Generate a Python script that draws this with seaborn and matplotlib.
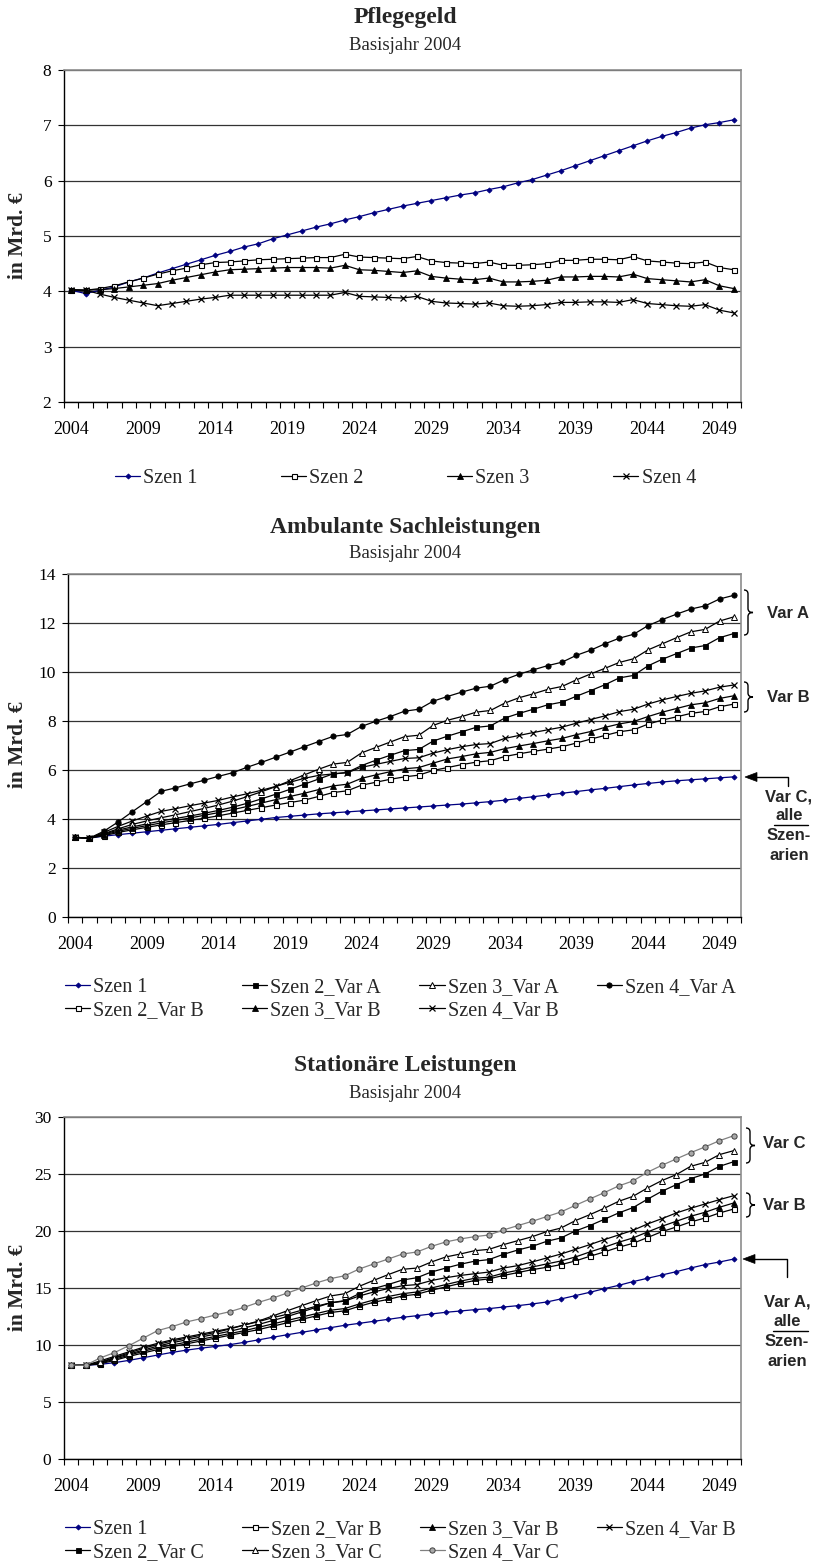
import numpy as np
import pandas as pd
import matplotlib
matplotlib.use("Agg")
import matplotlib.pyplot as plt
import seaborn as sns
from matplotlib.path import Path
from matplotlib.patches import PathPatch, Polygon
from matplotlib.lines import Line2D

# ---------------- data ----------------
years = list(range(2004, 2051))
tick_years = list(range(2004, 2050, 5))

# Pflegegeld
pg_s1 = [4.02, 3.96, 4.02, 4.08, 4.17, 4.24, 4.33, 4.41, 4.49, 4.57,
         4.65, 4.72, 4.80, 4.86, 4.95, 5.02, 5.09, 5.16, 5.22, 5.29,
         5.35, 5.42, 5.48, 5.54, 5.59, 5.64, 5.69, 5.74, 5.78, 5.84,
         5.89, 5.96, 6.02, 6.10, 6.18, 6.27, 6.36, 6.45, 6.54, 6.63,
         6.72, 6.80, 6.87, 6.95, 7.01, 7.05, 7.10]
pg_s2 = [4.03, 4.02, 4.05, 4.10, 4.17, 4.24, 4.31, 4.37, 4.42, 4.48,
         4.52, 4.53, 4.55, 4.57, 4.58, 4.59, 4.60, 4.61, 4.61, 4.67,
         4.62, 4.61, 4.60, 4.59, 4.63, 4.55, 4.52, 4.51, 4.50, 4.53,
         4.47, 4.47, 4.48, 4.50, 4.56, 4.56, 4.58, 4.58, 4.57, 4.63,
         4.55, 4.53, 4.51, 4.50, 4.53, 4.43, 4.39]
pg_s3 = [4.03, 4.02, 4.03, 4.05, 4.08, 4.11, 4.14, 4.20, 4.25, 4.30,
         4.35, 4.39, 4.40, 4.41, 4.42, 4.43, 4.43, 4.43, 4.42, 4.47,
         4.39, 4.38, 4.36, 4.34, 4.37, 4.27, 4.24, 4.22, 4.21, 4.24,
         4.17, 4.17, 4.18, 4.20, 4.26, 4.26, 4.27, 4.27, 4.26, 4.31,
         4.23, 4.21, 4.19, 4.17, 4.21, 4.10, 4.05]
pg_s4 = [4.02, 4.02, 3.95, 3.89, 3.84, 3.79, 3.74, 3.78, 3.82, 3.86,
         3.89, 3.93, 3.93, 3.93, 3.93, 3.93, 3.93, 3.93, 3.93, 3.98,
         3.91, 3.90, 3.89, 3.88, 3.91, 3.82, 3.79, 3.78, 3.77, 3.79,
         3.74, 3.73, 3.74, 3.76, 3.80, 3.80, 3.81, 3.81, 3.80, 3.85,
         3.78, 3.76, 3.74, 3.73, 3.76, 3.66, 3.61]

# Ambulante Sachleistungen
amb_s1 = [3.25, 3.22, 3.30, 3.36, 3.42, 3.48, 3.54, 3.60, 3.66, 3.72,
          3.78, 3.85, 3.92, 3.99, 4.06, 4.11, 4.16, 4.21, 4.25, 4.29,
          4.33, 4.37, 4.41, 4.45, 4.49, 4.53, 4.57, 4.61, 4.66, 4.71,
          4.77, 4.84, 4.91, 4.98, 5.05, 5.12, 5.19, 5.25, 5.32, 5.39,
          5.45, 5.51, 5.56, 5.60, 5.64, 5.68, 5.72]
amb_s2a = [3.25, 3.22, 3.38, 3.55, 3.68, 3.80, 3.92, 4.02, 4.12, 4.23,
           4.35, 4.48, 4.64, 4.82, 5.01, 5.21, 5.42, 5.63, 5.84, 5.90,
           6.18, 6.40, 6.60, 6.79, 6.84, 7.18, 7.38, 7.56, 7.74, 7.80,
           8.12, 8.31, 8.48, 8.66, 8.77, 9.01, 9.24, 9.48, 9.76, 9.86,
           10.25, 10.52, 10.75, 10.98, 11.08, 11.40, 11.57]
amb_s3a = [3.25, 3.22, 3.40, 3.60, 3.78, 3.92, 4.05, 4.17, 4.30, 4.43,
           4.57, 4.73, 4.91, 5.11, 5.32, 5.56, 5.80, 6.03, 6.24, 6.31,
           6.70, 6.92, 7.14, 7.36, 7.42, 7.82, 8.03, 8.18, 8.36, 8.43,
           8.73, 8.95, 9.11, 9.29, 9.41, 9.68, 9.92, 10.15, 10.39, 10.54,
           10.90, 11.15, 11.40, 11.64, 11.74, 12.08, 12.25]
amb_s4a = [3.25, 3.22, 3.50, 3.88, 4.30, 4.71, 5.13, 5.27, 5.43, 5.58,
           5.74, 5.89, 6.11, 6.31, 6.52, 6.73, 6.95, 7.16, 7.37, 7.45,
           7.78, 7.99, 8.18, 8.40, 8.48, 8.81, 9.00, 9.18, 9.34, 9.42,
           9.69, 9.91, 10.09, 10.26, 10.40, 10.68, 10.89, 11.15, 11.38, 11.54,
           11.89, 12.14, 12.36, 12.57, 12.70, 12.98, 13.13]
amb_s2b = [3.25, 3.22, 3.32, 3.45, 3.56, 3.66, 3.76, 3.85, 3.94, 4.03,
           4.13, 4.24, 4.35, 4.46, 4.57, 4.67, 4.77, 4.92, 5.08, 5.15,
           5.38, 5.50, 5.62, 5.72, 5.79, 5.98, 6.10, 6.22, 6.32, 6.38,
           6.55, 6.66, 6.76, 6.85, 6.95, 7.10, 7.26, 7.41, 7.56, 7.64,
           7.87, 8.04, 8.17, 8.31, 8.39, 8.58, 8.69]
amb_s3b = [3.25, 3.22, 3.35, 3.50, 3.62, 3.73, 3.84, 3.94, 4.04, 4.15,
           4.26, 4.38, 4.51, 4.65, 4.79, 4.92, 5.05, 5.20, 5.35, 5.42,
           5.66, 5.80, 5.93, 6.05, 6.10, 6.28, 6.45, 6.55, 6.66, 6.72,
           6.87, 6.98, 7.08, 7.19, 7.29, 7.44, 7.57, 7.74, 7.88, 7.98,
           8.18, 8.36, 8.51, 8.66, 8.74, 8.92, 9.03]
amb_s4b = [3.25, 3.22, 3.45, 3.70, 3.92, 4.12, 4.31, 4.42, 4.54, 4.65,
           4.76, 4.90, 5.03, 5.17, 5.33, 5.50, 5.66, 5.78, 5.84, 5.89,
           6.11, 6.23, 6.35, 6.47, 6.50, 6.69, 6.83, 6.95, 7.04, 7.08,
           7.29, 7.41, 7.53, 7.64, 7.75, 7.91, 8.06, 8.21, 8.38, 8.48,
           8.69, 8.86, 9.00, 9.13, 9.23, 9.38, 9.47]

# Stationaere Leistungen
st_s1 = [8.25, 8.22, 8.30, 8.45, 8.65, 8.88, 9.12, 9.35, 9.55, 9.72,
         9.87, 10.03, 10.23, 10.45, 10.68, 10.90, 11.11, 11.32, 11.52, 11.73,
         11.90, 12.08, 12.25, 12.43, 12.57, 12.72, 12.87, 12.98, 13.10, 13.19,
         13.33, 13.45, 13.60, 13.77, 14.04, 14.33, 14.62, 14.94, 15.23, 15.56,
         15.85, 16.14, 16.43, 16.75, 17.05, 17.28, 17.54]
st_s2b = [8.25, 8.22, 8.35, 8.65, 9.00, 9.30, 9.60, 9.85, 10.10, 10.35,
          10.60, 10.85, 11.10, 11.35, 11.65, 11.95, 12.25, 12.55, 12.85, 13.00,
          13.40, 13.75, 14.00, 14.30, 14.45, 14.80, 15.10, 15.40, 15.65, 15.80,
          16.10, 16.35, 16.61, 16.81, 17.05, 17.37, 17.78, 18.16, 18.57, 18.92,
          19.42, 19.94, 20.35, 20.79, 21.14, 21.58, 21.93]
st_s3b = [8.25, 8.22, 8.40, 8.75, 9.10, 9.45, 9.75, 10.00, 10.25, 10.50,
          10.75, 11.00, 11.25, 11.55, 11.85, 12.15, 12.45, 12.75, 13.05, 13.20,
          13.60, 13.95, 14.25, 14.50, 14.65, 15.00, 15.30, 15.60, 15.85, 15.95,
          16.30, 16.55, 16.84, 17.11, 17.37, 17.72, 18.16, 18.57, 19.01, 19.39,
          19.91, 20.41, 20.85, 21.29, 21.64, 22.08, 22.46]
st_s4b = [8.25, 8.22, 8.60, 9.00, 9.40, 9.80, 10.15, 10.45, 10.70, 10.95,
          11.20, 11.45, 11.75, 12.05, 12.40, 12.70, 13.05, 13.40, 13.70, 13.85,
          14.30, 14.65, 14.95, 15.20, 15.30, 15.65, 15.90, 16.10, 16.25, 16.40,
          16.75, 16.96, 17.28, 17.63, 17.98, 18.39, 18.80, 19.24, 19.65, 20.06,
          20.61, 21.08, 21.58, 21.99, 22.37, 22.75, 23.10]
st_s2c = [8.25, 8.22, 8.45, 8.85, 9.20, 9.55, 9.90, 10.20, 10.45, 10.70,
          10.95, 11.20, 11.50, 11.80, 12.15, 12.50, 12.90, 13.30, 13.70, 13.90,
          14.50, 14.95, 15.30, 15.70, 15.90, 16.40, 16.75, 17.08, 17.35, 17.49,
          17.95, 18.33, 18.65, 19.09, 19.39, 20.00, 20.47, 21.02, 21.58, 22.05,
          22.78, 23.48, 24.06, 24.59, 25.00, 25.67, 26.08]
st_s3c = [8.25, 8.22, 8.50, 8.90, 9.30, 9.70, 10.05, 10.35, 10.60, 10.85,
          11.10, 11.40, 11.75, 12.10, 12.55, 13.00, 13.45, 13.89, 14.30, 14.50,
          15.15, 15.67, 16.17, 16.64, 16.75, 17.28, 17.72, 17.98, 18.27, 18.39,
          18.80, 19.15, 19.50, 19.94, 20.26, 20.91, 21.43, 21.99, 22.60, 23.04,
          23.77, 24.42, 24.94, 25.67, 26.02, 26.70, 27.05]
st_s4c = [8.25, 8.22, 8.86, 9.33, 9.94, 10.60, 11.26, 11.61, 12.02, 12.31,
          12.63, 12.92, 13.30, 13.74, 14.12, 14.56, 15.00, 15.44, 15.82, 16.08,
          16.67, 17.11, 17.54, 17.98, 18.16, 18.65, 19.04, 19.30, 19.50, 19.65,
          20.09, 20.47, 20.85, 21.26, 21.67, 22.25, 22.81, 23.36, 23.95, 24.39,
          25.15, 25.76, 26.32, 26.87, 27.37, 27.92, 28.36]

# ---------------- styling ----------------
sns.set_theme(style="white")
plt.rcParams['font.family'] = ['Liberation Serif', 'DejaVu Serif']

W, H = 817, 1566
fig = plt.figure(figsize=(W / 100, H / 100), dpi=100)
fig.patch.set_facecolor('white')


def fx(x):
    return x / W


def fy(y):
    return 1 - y / H


def add_axes(l, t, r, b):
    return fig.add_axes([fx(l), fy(b), (r - l) / W, (b - t) / H])


NAVY = '#000080'
ST = {
    'navy': dict(color=NAVY, marker='D', markersize=2.6, markerfacecolor=NAVY,
                 markeredgecolor=NAVY, markeredgewidth=0.6),
    'sq_open': dict(color='black', marker='s', markersize=3.6, markerfacecolor='white',
                    markeredgecolor='black', markeredgewidth=0.8),
    'sq_fill': dict(color='black', marker='s', markersize=3.6, markerfacecolor='black',
                    markeredgecolor='black', markeredgewidth=0.6),
    'tri_fill': dict(color='black', marker='^', markersize=4.0, markerfacecolor='black',
                     markeredgecolor='black', markeredgewidth=0.6),
    'tri_open': dict(color='black', marker='^', markersize=4.2, markerfacecolor='white',
                     markeredgecolor='black', markeredgewidth=0.7),
    'circ_fill': dict(color='black', marker='o', markersize=3.8, markerfacecolor='black',
                      markeredgecolor='black', markeredgewidth=0.6),
    'x': dict(color='black', marker='x', markersize=5.0, markerfacecolor='black',
              markeredgecolor='black', markeredgewidth=0.9),
    'circ_gray': dict(color='#808080', marker='o', markersize=3.8, markerfacecolor='#a8a8a8',
                      markeredgecolor='#404040', markeredgewidth=0.7),
}


def style_axes(ax, ymin, ymax, ystep):
    ax.set_xlim(2003.5, 2050.5)
    ax.set_ylim(ymin, ymax)
    ax.set_yticks(np.arange(ymin, ymax + 0.001, ystep))
    ax.set_yticklabels([f"{int(v)}" for v in np.arange(ymin, ymax + 0.001, ystep)])
    ax.set_xticks(tick_years)
    ax.set_xticklabels([str(y) for y in tick_years])
    ax.set_xticks(np.arange(2003.5, 2051, 1), minor=True)
    ax.tick_params(axis='x', which='major', length=0, pad=14, labelsize=13, colors='black')
    ax.tick_params(axis='x', which='minor', length=4, width=0.8, direction='out',
                   bottom=True, color='black')
    ax.tick_params(axis='y', which='major', length=4, width=0.8, direction='out',
                   left=True, pad=5, labelsize=12.5, colors='black')
    ax.yaxis.grid(True, color='#333333', linewidth=0.9)
    ax.xaxis.grid(False)
    ax.set_axisbelow(True)
    for s in ['left', 'bottom']:
        ax.spines[s].set_color('black')
        ax.spines[s].set_linewidth(1.0)
    for s in ['top', 'right']:
        ax.spines[s].set_color('#8c8c8c')
        ax.spines[s].set_linewidth(1.2)
    ax.set_xlabel('')
    ax.set_ylabel('')
    ax.set_facecolor('white')


def plot_series(ax, items):
    for label, vals, key in items:
        sns.lineplot(x=years, y=vals, ax=ax, legend=False, errorbar=None,
                     linewidth=0.9, **ST[key])


def add_legend(ax, items, order, x, y, ncol, colsp):
    lines = ax.get_lines()
    handles = [lines[i] for i in order]
    labels = [items[i][0] for i in order]
    fig.legend(handles, labels, loc='center left', bbox_to_anchor=(fx(x), fy(y)),
               ncol=ncol, frameon=False, fontsize=14.5, handlelength=1.25,
               handletextpad=0.15, columnspacing=colsp, borderpad=0,
               borderaxespad=0, labelspacing=0.15)


def titles(t, title, sub, yc):
    fig.text(fx(405), fy(t), title, ha='center', va='center', fontsize=17,
             fontweight='bold')
    fig.text(fx(405), fy(t + 27), sub, ha='center', va='center', fontsize=13.5)
    fig.text(fx(18), fy(yc), 'in Mrd. €', rotation=90, ha='center', va='center',
             fontsize=15.5, fontweight='bold')


def brace(x0, y0, y1, w=9):
    xm = x0 + 4
    xt = x0 + w
    ym = (y0 + y1) / 2
    r = 4
    pts = [(x0, y0), (xm, y0), (xm, y0 + r), (xm, ym - r), (xm, ym), (xt, ym),
           (xm, ym), (xm, ym + r), (xm, y1 - r), (xm, y1), (x0, y1)]
    codes = [Path.MOVETO, Path.CURVE3, Path.CURVE3, Path.LINETO, Path.CURVE3,
             Path.CURVE3, Path.CURVE3, Path.CURVE3, Path.LINETO, Path.CURVE3,
             Path.CURVE3]
    verts = [(fx(a), fy(b)) for a, b in pts]
    patch = PathPatch(Path(verts, codes), transform=fig.transFigure, fill=False,
                      lw=1.0, ec='black')
    fig.add_artist(patch)


def arrow(xtip, y, xcorner, ybot):
    head = Polygon([(fx(xtip), fy(y)), (fx(xtip + 12), fy(y - 4.5)),
                    (fx(xtip + 12), fy(y + 4.5))], closed=True,
                   transform=fig.transFigure, fc='black', ec='black', lw=0.5)
    fig.add_artist(head)
    fig.add_artist(Line2D([fx(xtip + 10), fx(xcorner), fx(xcorner)],
                          [fy(y), fy(y), fy(ybot)], transform=fig.transFigure,
                          color='black', lw=1.0))


SANS = dict(family=['Liberation Sans', 'DejaVu Sans'], fontweight='bold', fontsize=12)


def side_text(x, y, s, ha='left'):
    fig.text(fx(x), fy(y), s, ha=ha, va='center', **SANS)


def underline(x0, x1, y):
    fig.add_artist(Line2D([fx(x0), fx(x1)], [fy(y), fy(y)], transform=fig.transFigure,
                          color='black', lw=1.0))


# ---------------- chart 1: Pflegegeld ----------------
ax1 = add_axes(64, 70, 741, 402)
items1 = [('Szen 1', pg_s1, 'navy'), ('Szen 2', pg_s2, 'sq_open'),
          ('Szen 3', pg_s3, 'tri_fill'), ('Szen 4', pg_s4, 'x')]
plot_series(ax1, items1)
style_axes(ax1, 2, 8, 1)
titles(18, 'Pflegegeld', 'Basisjahr 2004', 236)
add_legend(ax1, items1, [0, 1, 2, 3], 115, 478, 4, 4.15)

# ---------------- chart 2: Ambulante Sachleistungen ----------------
ax2 = add_axes(68, 574, 741, 917)
items2 = [('Szen 1', amb_s1, 'navy'), ('Szen 2_Var A', amb_s2a, 'sq_fill'),
          ('Szen 3_Var A', amb_s3a, 'tri_open'), ('Szen 4_Var A', amb_s4a, 'circ_fill'),
          ('Szen 2_Var B', amb_s2b, 'sq_open'), ('Szen 3_Var B', amb_s3b, 'tri_fill'),
          ('Szen 4_Var B', amb_s4b, 'x')]
plot_series(ax2, items2)
style_axes(ax2, 0, 14, 2)
titles(527, 'Ambulante Sachleistungen', 'Basisjahr 2004', 745)
add_legend(ax2, items2, [0, 4, 1, 5, 2, 6, 3], 65, 999, 4, 1.9)

brace(744, 590, 635)
side_text(767, 614, 'Var A')
brace(744, 682, 712)
side_text(767, 698, 'Var B')
arrow(745, 777, 788, 786)
side_text(789, 797, 'Var C,', ha='center')
side_text(775, 816, 'alle', ha='left')
underline(774, 808, 825)
side_text(789, 836, 'Szen-', ha='center')
side_text(789, 856, 'arien', ha='center')

# ---------------- chart 3: Stationaere Leistungen ----------------
ax3 = add_axes(64, 1117, 741, 1459)
items3 = [('Szen 1', st_s1, 'navy'), ('Szen 2_Var B', st_s2b, 'sq_open'),
          ('Szen 3_Var B', st_s3b, 'tri_fill'), ('Szen 4_Var B', st_s4b, 'x'),
          ('Szen 2_Var C', st_s2c, 'sq_fill'), ('Szen 3_Var C', st_s3c, 'tri_open'),
          ('Szen 4_Var C', st_s4c, 'circ_gray')]
plot_series(ax3, items3)
style_axes(ax3, 0, 30, 5)
titles(1066, 'Stationäre Leistungen', 'Basisjahr 2004', 1288)
add_legend(ax3, items3, [0, 4, 1, 5, 2, 6, 3], 65, 1541, 4, 1.9)

brace(746, 1128, 1163)
side_text(763, 1144, 'Var C')
brace(746, 1193, 1217)
side_text(763, 1205, 'Var B')
arrow(743, 1259, 787, 1277)
side_text(787, 1302, 'Var A,', ha='center')
side_text(774, 1322, 'alle', ha='left')
underline(773, 808, 1331)
side_text(787, 1342, 'Szen-', ha='center')
side_text(787, 1361, 'arien', ha='center')

fig.savefig('out.png', dpi=100, facecolor='white')
